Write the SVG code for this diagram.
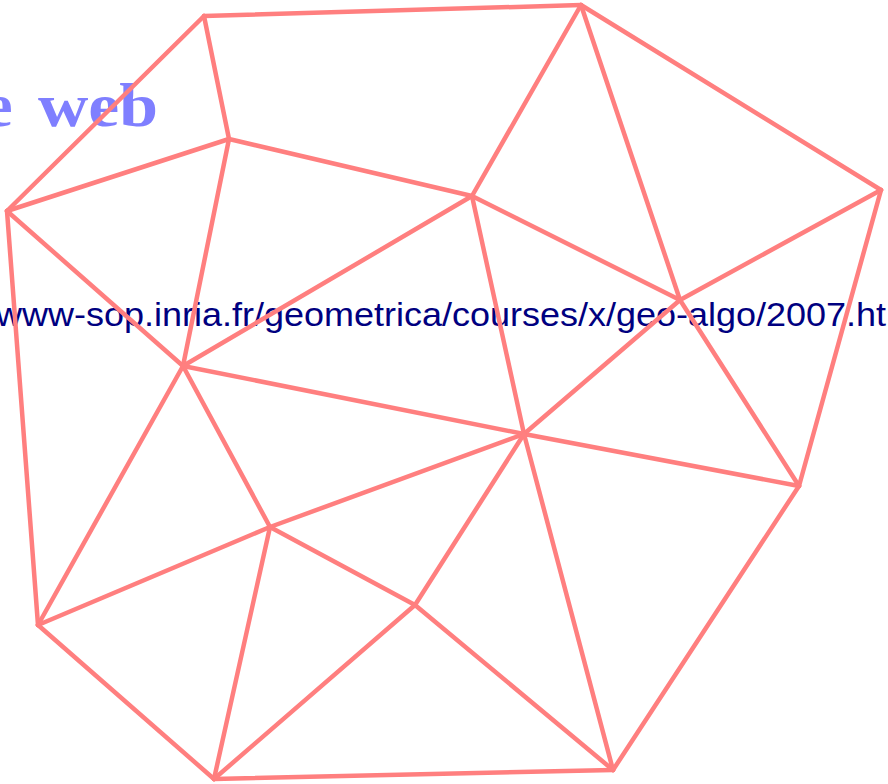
<svg xmlns="http://www.w3.org/2000/svg" width="888" height="784" viewBox="0 0 888 784">
<style>
.e{stroke:#ff7f7f;stroke-width:4.5;stroke-linecap:round;fill:none}
.t1{font-family:"Liberation Serif",serif;font-weight:bold;font-size:62px;fill:#7f7fff}
.t2{font-family:"Liberation Sans",sans-serif;font-size:34px;fill:#000080}
</style>
<rect width="888" height="784" fill="#fff"/>
<g id="title">
<text class="t1" x="-15" y="126">e</text>
<text class="t1" x="38" y="126" textLength="120" lengthAdjust="spacingAndGlyphs">web</text>
</g>
<g id="url">
<text class="t2" x="-4" y="326" textLength="890" lengthAdjust="spacingAndGlyphs">www-sop.inria.fr/geometrica/courses/x/geo-algo/2007.ht</text>
</g>
<g id="edges">
<line class="e" x1="204" y1="16" x2="581" y2="5"/>
<line class="e" x1="581" y1="5" x2="881" y2="190"/>
<line class="e" x1="204" y1="16" x2="7" y2="211"/>
<line class="e" x1="204" y1="16" x2="229" y2="139"/>
<line class="e" x1="7" y1="211" x2="229" y2="139"/>
<line class="e" x1="229" y1="139" x2="472" y2="196"/>
<line class="e" x1="581" y1="5" x2="472" y2="196"/>
<line class="e" x1="581" y1="5" x2="680" y2="300"/>
<line class="e" x1="881" y1="190" x2="680" y2="300"/>
<line class="e" x1="881" y1="190" x2="799" y2="486"/>
<line class="e" x1="472" y1="196" x2="680" y2="300"/>
<line class="e" x1="183" y1="366" x2="472" y2="196"/>
<line class="e" x1="472" y1="196" x2="524" y2="434"/>
<line class="e" x1="680" y1="300" x2="524" y2="434"/>
<line class="e" x1="680" y1="300" x2="799" y2="486"/>
<line class="e" x1="524" y1="434" x2="799" y2="486"/>
<line class="e" x1="7" y1="211" x2="183" y2="366"/>
<line class="e" x1="229" y1="139" x2="183" y2="366"/>
<line class="e" x1="7" y1="211" x2="38" y2="625"/>
<line class="e" x1="183" y1="366" x2="38" y2="625"/>
<line class="e" x1="183" y1="366" x2="270" y2="527"/>
<line class="e" x1="183" y1="366" x2="524" y2="434"/>
<line class="e" x1="270" y1="527" x2="524" y2="434"/>
<line class="e" x1="38" y1="625" x2="270" y2="527"/>
<line class="e" x1="270" y1="527" x2="415" y2="605"/>
<line class="e" x1="270" y1="527" x2="214" y2="779"/>
<line class="e" x1="38" y1="625" x2="214" y2="779"/>
<line class="e" x1="214" y1="779" x2="415" y2="605"/>
<line class="e" x1="415" y1="605" x2="524" y2="434"/>
<line class="e" x1="415" y1="605" x2="613" y2="770"/>
<line class="e" x1="524" y1="434" x2="613" y2="770"/>
<line class="e" x1="214" y1="779" x2="613" y2="770"/>
<line class="e" x1="799" y1="486" x2="613" y2="770"/>
</g>
</svg>
